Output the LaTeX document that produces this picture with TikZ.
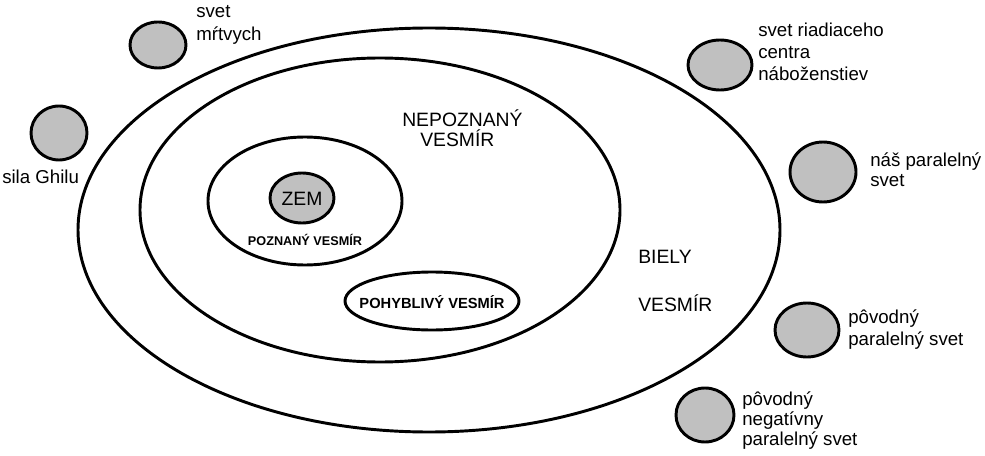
\documentclass[tikz,border=0pt]{standalone}
\usepackage{fontspec}
\setmainfont{Liberation Sans}
\definecolor{planetgray}{HTML}{C0C0C0}
\begin{document}
\begin{tikzpicture}[x=0.75pt,y=-0.75pt,
  orbit/.style={draw=black,line width=2.2pt},
  planet/.style={draw=black,fill=planetgray,line width=2.2pt},
  side/.style={anchor=base west,inner sep=0pt,font=\fontsize{14pt}{16pt}\selectfont},
  big/.style={anchor=base west,inner sep=0pt,font=\fontsize{14.5pt}{17pt}\selectfont},
  small/.style={anchor=base,inner sep=0pt,font=\bfseries\fontsize{9.5pt}{11pt}\selectfont},
  mid/.style={anchor=base,inner sep=0pt,font=\bfseries\fontsize{11pt}{13pt}\selectfont}]
\def\u{0.75pt}
\useasboundingbox (0,0) rectangle (985,456);
\fill[white] (0,0) rectangle (985,456);
% universes
\draw[orbit] (429,230) ellipse [x radius=351*\u, y radius=202*\u];
\draw[orbit] (380,210) ellipse [x radius=240*\u, y radius=152*\u];
\draw[orbit] (305,201) ellipse [x radius=97*\u, y radius=64*\u];
\draw[orbit] (432,301) ellipse [x radius=87*\u, y radius=29*\u];
% planets
\draw[planet] (302,198) ellipse [x radius=32*\u, y radius=25*\u];
\draw[planet] (158,45) ellipse [x radius=28*\u, y radius=23*\u];
\draw[planet] (59,133) ellipse [x radius=28*\u, y radius=27*\u];
\draw[planet] (720,65) ellipse [x radius=32*\u, y radius=25*\u];
\draw[planet] (823,172) ellipse [x radius=33*\u, y radius=30*\u];
\draw[planet] (807,330) ellipse [x radius=32*\u, y radius=27*\u];
\draw[planet] (705,415) ellipse [x radius=29*\u, y radius=27*\u];
% inner labels
\node[anchor=base,inner sep=0pt,font=\fontsize{14.5pt}{17pt}\selectfont] (zem) at (302,205) {ZEM};
\node[small] (poz) at (305,245) {POZNANÝ VESMÍR};
\node[mid] (poh) at (432,308) {POHYBLIVÝ VESMÍR};
\node[big] (nep1) at (402,127) {NEPOZNANÝ};
\node[big] (nep2) at (420,147) {VESMÍR};
\node[big] (bie1) at (638,263) {BIELY};
\node[big] (bie2) at (638,311) {VESMÍR};
% side labels
\node[side] (mr1) at (196,18) {svet};
\node[side] (mr2) at (196,41) {mŕtvych};
\node[side] (gh) at (2,184) {sila Ghilu};
\node[side] (ri1) at (758,37) {svet riadiaceho};
\node[side] (ri2) at (758,59) {centra};
\node[side] (ri3) at (758,81) {náboženstiev};
\node[side] (na1) at (870,167) {náš paralelný};
\node[side] (na2) at (870,186) {svet};
\node[side] (po1) at (848,323) {pôvodný};
\node[side] (po2) at (848,345) {paralelný svet};
\node[side] (ng1) at (742,405) {pôvodný};
\node[side] (ng2) at (742,425) {negatívny};
\node[side] (ng3) at (742,445) {paralelný svet};
\end{tikzpicture}
\end{document}
